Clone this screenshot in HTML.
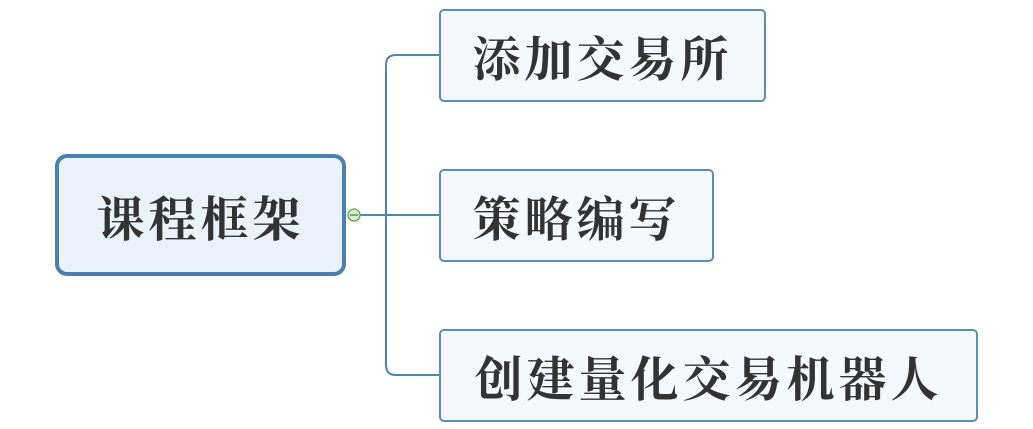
<!DOCTYPE html>
<html><head><meta charset="utf-8"><style>
body{margin:0;width:1033px;height:429px;background:#fff;position:relative;overflow:hidden;font-family:"Liberation Serif","Noto Serif CJK SC",serif;}
.b{position:absolute;box-sizing:border-box;display:flex;align-items:center;justify-content:center;color:#333;font-weight:bold;font-size:48px;letter-spacing:4px;}
.c{left:55px;top:154px;width:291px;height:122px;border:4px solid #4a80ad;border-radius:12px;background:#eaf2fb;}
.s{border:2px solid #5b8db7;border-radius:5px;background:#f5f8fc;height:93px;}
</style></head><body>
<svg width="1033" height="429" style="position:absolute;left:0;top:0">
<path d="M360 215 H439 M439 55 H396 Q386 55 386 65 V365 Q386 375 396 375 H439" fill="none" stroke="#4f86b1" stroke-width="2"/>
<circle cx="354" cy="215" r="6" fill="#d9f0d0" stroke="#5aa64a" stroke-width="1.3"/>
<line x1="350" y1="215" x2="358" y2="215" stroke="#3d7a33" stroke-width="1.2"/>
</svg>
<div class="b c">课程框架</div>
<div class="b s" style="left:439px;top:9px;width:327px;">添加交易所</div>
<div class="b s" style="left:439px;top:169px;width:275px;">策略编写</div>
<div class="b s" style="left:439px;top:329px;width:539px;">创建量化交易机器人</div>
</body></html>
